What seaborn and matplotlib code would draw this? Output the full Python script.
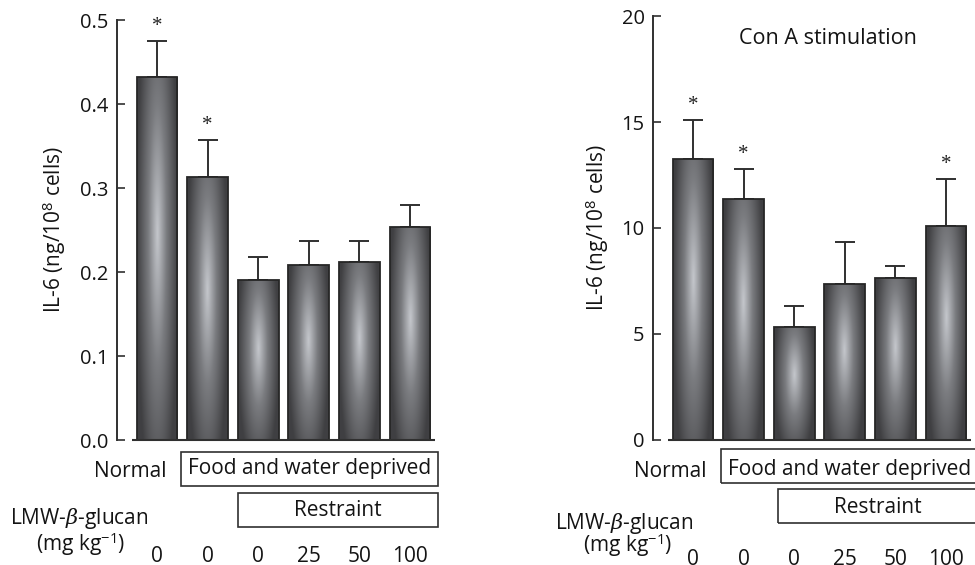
import numpy as np
import pandas as pd
import matplotlib
matplotlib.use("Agg")
import matplotlib.pyplot as plt
import seaborn as sns
from matplotlib.colors import LinearSegmentedColormap
from matplotlib.patches import Rectangle
import matplotlib.transforms as mtransforms

# ---------------- data ----------------
groups = ["Normal", "FWD", "FWD+R 0", "FWD+R 25", "FWD+R 50", "FWD+R 100"]
dose_labels = ["0", "0", "0", "25", "50", "100"]

il6_basal = [0.432, 0.313, 0.191, 0.208, 0.212, 0.253]
il6_basal_err = [0.043, 0.044, 0.027, 0.029, 0.025, 0.027]
basal_sig = [True, True, False, False, False, False]
basal_yticks = [0.0, 0.1, 0.2, 0.3, 0.4, 0.5]
basal_yticklabels = ["0.0", "0.1", "0.2", "0.3", "0.4", "0.5"]

il6_cona = [13.26, 11.37, 5.33, 7.35, 7.65, 10.10]
il6_cona_err = [1.84, 1.42, 0.98, 2.00, 0.55, 2.21]
cona_sig = [True, True, False, False, False, True]
cona_yticks = [0, 5, 10, 15, 20]
cona_yticklabels = ["0", "5", "10", "15", "20"]

ylabel = "IL-6 (ng/10$^{8}$ cells)"
row_normal = "Normal"
row_fwd = "Food and water deprived"
row_restraint = "Restraint"
row_glucan = "LMW-$\\beta$-glucan"
row_units = "(mg kg$^{-1}$)"
cona_title = "Con A stimulation"

# ---------------- style ----------------
sns.set_style("ticks")
plt.rcParams['font.family'] = ['Open Sans', 'DejaVu Sans']
plt.rcParams['mathtext.fontset'] = 'custom'
plt.rcParams['mathtext.rm'] = 'Open Sans'
plt.rcParams['mathtext.it'] = 'DejaVu Serif:italic'

W, H = 975, 565
fig = plt.figure(figsize=(W / 100, H / 100), dpi=100)

TXT = "#141414"
DARK = "#262626"
LINE = "#303030"
FS = 15
cmap = LinearSegmentedColormap.from_list(
    "barshade", [(0.0, (0.77, 0.78, 0.80)), (0.45, (0.48, 0.485, 0.50)), (1.0, (0.25, 0.25, 0.26))])

ny, nx = 240, 120
yy, xx = np.mgrid[0:1:ny * 1j, 0:1:nx * 1j]


def shade(yc):
    t = np.sqrt(((xx - 0.5) / 0.5) ** 2 + ((yy - yc) / 0.8) ** 2)
    return np.clip(t, 0, 1)


SP = 50.6  # px per category


def fx(x):
    return x / W


def fy(y):
    return 1 - y / H


def panel(left_px, top_px, bottom_px, width_px, vals, errs, sig, yticks, yticklabels,
          ymax, ylab_x_px, ylab_y_px, rows):
    ax = fig.add_axes([fx(left_px), fy(bottom_px), width_px / W, (bottom_px - top_px) / H])
    df = pd.DataFrame({"group": groups, "value": vals})
    sns.barplot(data=df, x="group", y="value", order=groups, color="#555555",
                width=0.81, errorbar=None, ax=ax, zorder=3)
    x0 = -40 / SP

    for p in ax.patches:
        bx, by = p.get_x(), p.get_y()
        bw, bh = p.get_width(), p.get_height()
        img = ax.imshow(shade(0.57), cmap=cmap, vmin=0, vmax=1, origin="lower",
                        extent=[bx, bx + bw, by, by + bh], aspect="auto",
                        interpolation="bilinear", zorder=2.5)
        img.set_clip_path(p)
        p.set_facecolor("none")
        p.set_edgecolor(DARK)
        p.set_linewidth(1.3)
        p.set_zorder(3)
    ax.set_xlim(x0, x0 + width_px / SP)
    ax.set_ylim(0, ymax)
    ax.set_aspect("auto")

    xs = np.arange(len(groups))
    ax.errorbar(xs, vals, yerr=[np.zeros(len(vals)), errs], fmt="none", ecolor=LINE,
                elinewidth=1.4, capsize=7.2, capthick=1.4, zorder=1)
    for xi, v, e, s in zip(xs, vals, errs, sig):
        if s:
            ax.annotate("*", (xi, v + e), xytext=(0, 7), textcoords="offset points",
                        ha="center", va="baseline", fontsize=15,
                        family="Liberation Serif", color="#222222")

    # baseline
    ax.plot([-0.5, 5.5], [0, 0], color=LINE, lw=1.5, clip_on=False, zorder=4,
            solid_capstyle="butt")

    sns.despine(ax=ax, top=True, right=True, bottom=True)
    ax.spines["left"].set_color(LINE)
    ax.spines["left"].set_linewidth(1.4)
    ax.set_yticks(yticks)
    ax.set_yticklabels(yticklabels)
    ax.tick_params(axis="y", direction="in", length=5.5, width=1.2, color=LINE,
                   pad=6, labelsize=14.5, labelcolor=TXT)
    ax.set_xticks(xs)
    ax.set_xticklabels(dose_labels)
    ax.tick_params(axis="x", length=0, labelsize=FS, labelcolor=TXT,
                   pad=rows["dose_pad"])
    ax.set_xlabel("")
    ax.set_ylabel(ylabel, fontsize=FS, color=TXT, va="center")
    ax.yaxis.set_label_coords((ylab_x_px - left_px) / width_px,
                              (bottom_px - ylab_y_px) / (bottom_px - top_px))

    # bottom annotation rows: x in data, y in figure
    tr = mtransforms.blended_transform_factory(ax.transData, fig.transFigure)
    fig.text(fx(rows["normal_x"]), fy(rows["normal_y"]), row_normal, ha="right",
             va="baseline", fontsize=FS, color=TXT)
    bx0, bx1 = rows["fwd_x"]
    by0, by1 = rows["fwd_y"]
    fig.patches.append(Rectangle((bx0, fy(by1)), bx1 - bx0, (by1 - by0) / H,
                                 transform=tr, fill=False, edgecolor=LINE, lw=1.2,
                                 figure=fig))
    fig.text((bx0 + bx1) / 2, fy(rows["fwd_ty"]), row_fwd, transform=tr, ha="center",
             va="baseline", fontsize=FS, color=TXT)
    rx0, rx1 = rows["res_x"]
    ry0, ry1 = rows["res_y"]
    fig.patches.append(Rectangle((rx0, fy(ry1)), rx1 - rx0, (ry1 - ry0) / H,
                                 transform=tr, fill=False, edgecolor=LINE, lw=1.2,
                                 figure=fig))
    fig.text((rx0 + rx1) / 2, fy(rows["res_ty"]), row_restraint, transform=tr,
             ha="center", va="baseline", fontsize=FS, color=TXT)
    fig.text(fx(rows["glu_x"]), fy(rows["glu_y"]), row_glucan, ha="left",
             va="baseline", fontsize=FS, color=TXT)
    fig.text(fx(rows["unit_x"]), fy(rows["unit_y"]), row_units, ha="left",
             va="baseline", fontsize=FS, color=TXT)
    return ax


rows_left = dict(normal_x=166, normal_y=477, fwd_x=(0.47, 5.55), fwd_y=(452, 486),
                 fwd_ty=474, res_x=(1.60, 5.55), res_y=(493, 527), res_ty=516,
                 glu_x=10, glu_y=524, unit_x=36, unit_y=551, dose_pad=76)
rows_right = dict(normal_x=707, normal_y=477, fwd_x=(0.55, 5.63), fwd_y=(449, 483),
                  fwd_ty=475, res_x=(1.68, 5.63), res_y=(489, 523), res_ty=513,
                  glu_x=555, glu_y=529, unit_x=583, unit_y=552, dose_pad=79)

ax1 = panel(117, 20, 440, 323, il6_basal, il6_basal_err, basal_sig, basal_yticks,
            basal_yticklabels, 0.5, 54, 230, rows_left)
ax2 = panel(653, 16.3, 439.5, 322, il6_cona, il6_cona_err, cona_sig, cona_yticks,
            cona_yticklabels, 20, 597, 228, rows_right)
fig.text(fx(828), fy(39), cona_title, ha="center", va="center", fontsize=15.5,
         color=TXT)

fig.savefig("out.png", dpi=100, facecolor="white")
